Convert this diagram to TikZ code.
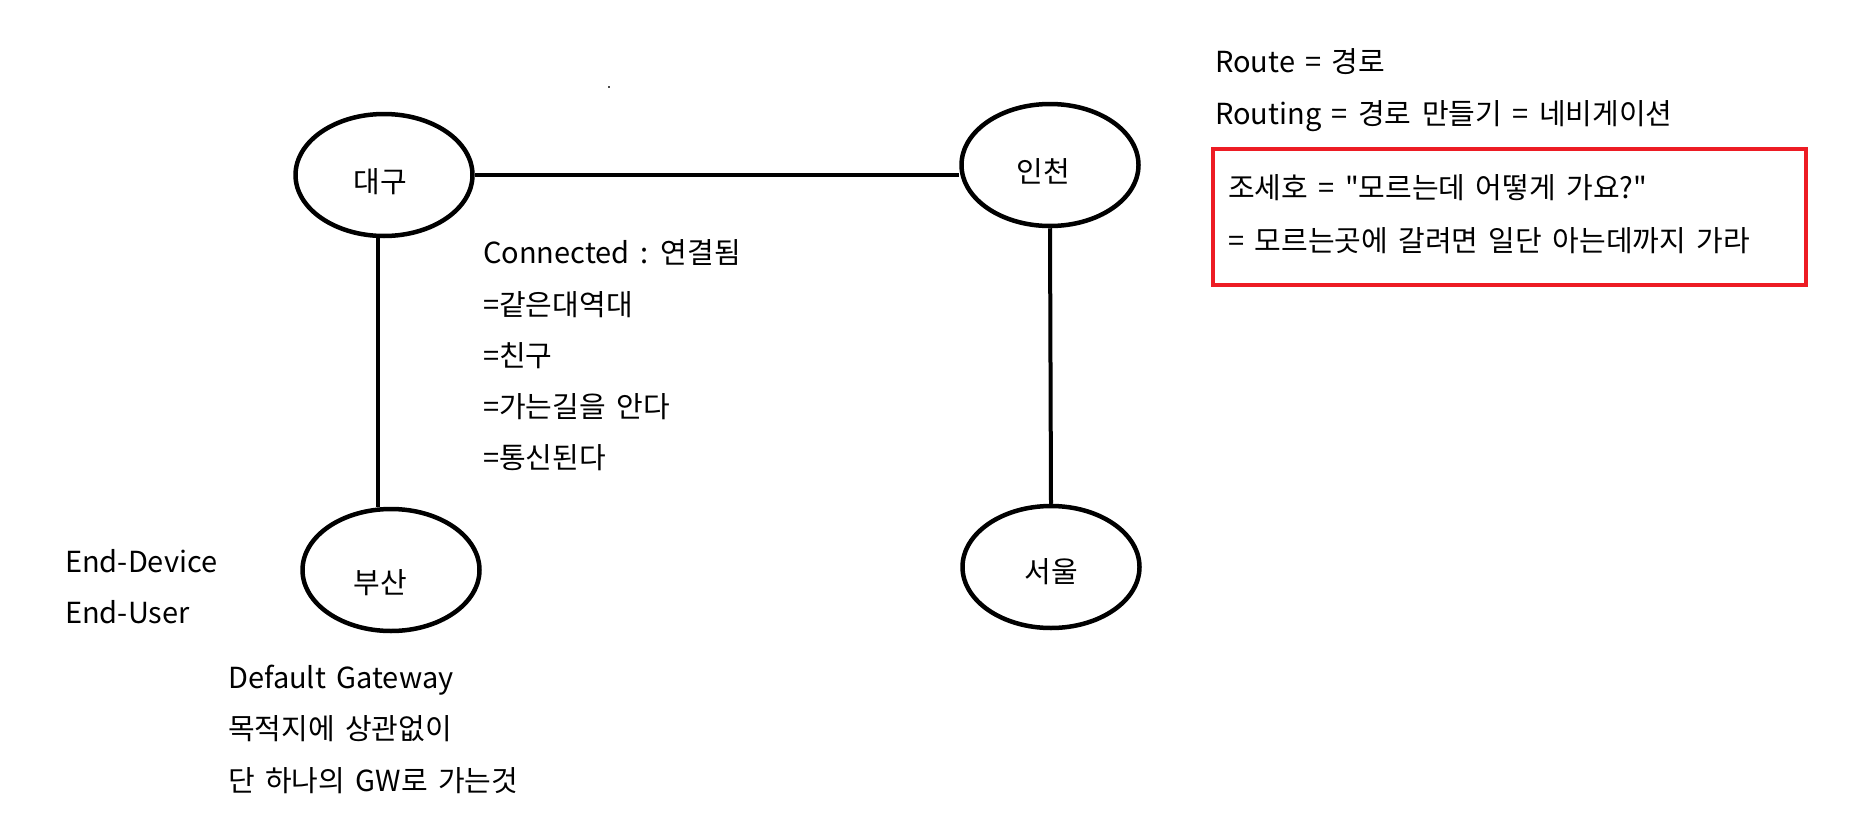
\documentclass[tikz,border=0pt]{standalone}
\usepackage{fontspec}
\setmainfont{Noto Sans CJK KR}[Ligatures=TeXOff, WordSpace=1.6]
\usetikzlibrary{shapes.geometric}
\definecolor{boxred}{RGB}{237,28,36}
\begin{document}
\begin{tikzpicture}[x=1pt,y=-1pt,
  city/.style={draw, ellipse, line width=4.5pt, minimum width=177pt, minimum height=122pt, inner sep=0pt},
  lbl/.style={font=\fontsize{29}{35}\selectfont, inner sep=0pt},
  link/.style={line width=4pt},
  txt/.style={anchor=base west, inner sep=0pt, font=\fontsize{29}{35}\selectfont}]
\useasboundingbox (0,0) rectangle (1866,819);
\fill[white] (0,0) rectangle (1866,819);
% cities
\node[city, label={[lbl, xshift=-4pt, yshift=-7pt]center:대구}] (daegu) at (384,175) {};
\node[city, label={[lbl, xshift=-7pt, yshift=-6pt]center:인천}] (incheon) at (1050,165) {};
\node[city, label={[lbl, xshift=-11pt, yshift=-13pt]center:부산}] (busan) at (391,570) {};
\node[city, label={[lbl, xshift=0pt, yshift=-5pt]center:서울}] (seoul) at (1051,567) {};
% links
\draw[link] (daegu.east) -- (daegu.east -| incheon.west);
\draw[link] ([xshift=-6pt]daegu.south) -- ([xshift=-6pt]daegu.south |- busan.north);
\draw[link] (incheon.south) -- (seoul.north);
% stray dot
\fill[black!70] (608,86) rectangle (610,88);
% texts
\node[txt] (conn1) at (483,263) {Connected : 연결됨};
\node[txt] (conn2) at (483,315) {=같은대역대};
\node[txt] (conn3) at (483,366) {=친구};
\node[txt] (conn4) at (483,417) {=가는길을 안다};
\node[txt] (conn5) at (483,468) {=통신된다};
\node[txt] (route) at (1215,72) {Route = 경로};
\node[txt] (routing) at (1215,124) {Routing = 경로 만들기 = 네비게이션};
\draw[boxred, line width=4.5pt] (1213,149) rectangle (1806,285);
\node[txt] (jo1) at (1228,198) {조세호 = "모르는데 어떻게 가요?"};
\node[txt] (jo2) at (1228,251) {= 모르는곳에 갈려면 일단 아는데까지 가라};
\node[txt] (ed) at (65,572) {End-Device};
\node[txt] (eu) at (65,623) {End-User};
\node[txt] (dg1) at (228,688) {Default Gateway};
\node[txt] (dg2) at (228,739) {목적지에 상관없이};
\node[txt] (dg3) at (228,791) {단 하나의 GW로 가는것};
\end{tikzpicture}
\end{document}
